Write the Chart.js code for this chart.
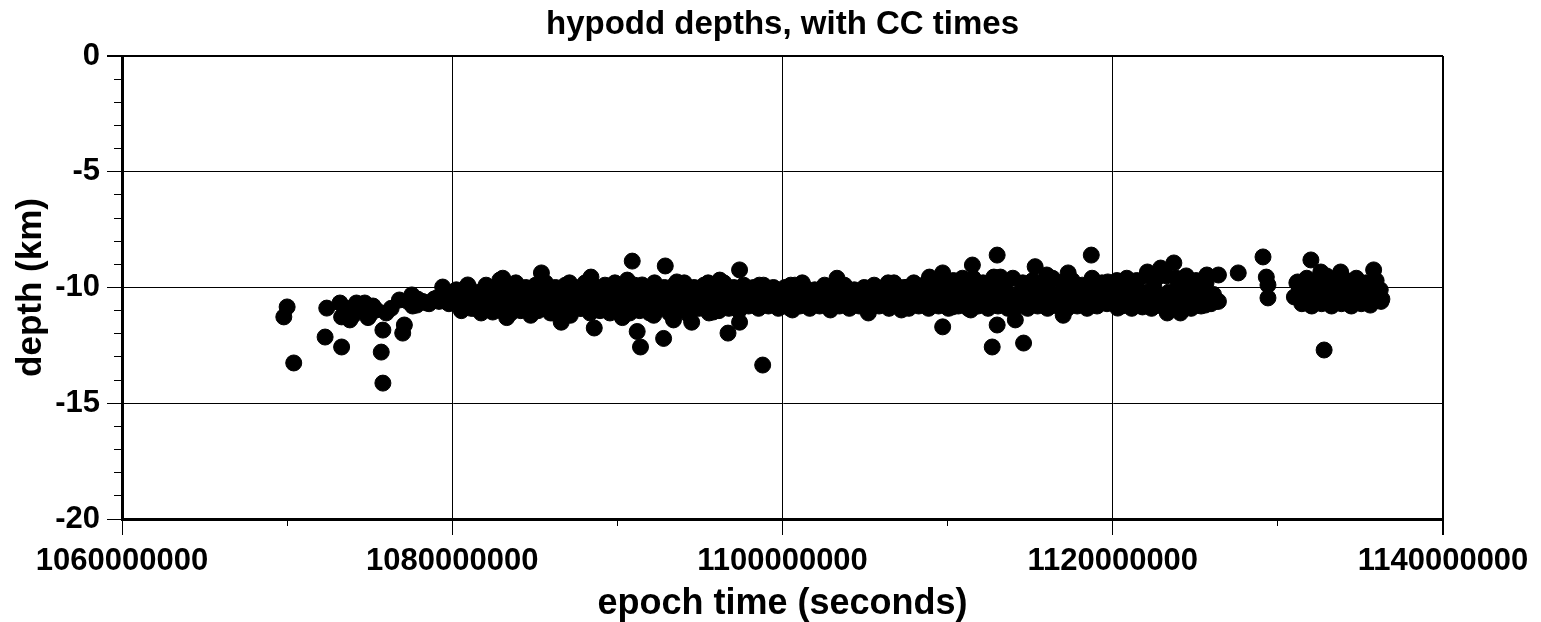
<!DOCTYPE html>
<html>
<head>
<meta charset="utf-8">
<title>hypodd depths</title>
<script src="https://cdn.jsdelivr.net/npm/chart.js@4/dist/chart.umd.min.js"></script>
<style>
  html, body { margin: 0; padding: 0; background: #fff; }
</style>
</head>
<body>
<canvas id="depthChart" width="1541" height="622"></canvas>
<script>
// epoch time (s) and depth (km), grouped by time span

// before 1080000000
const timesA = [
  1069.8e6, 1070.0e6, 1070.4e6, 1072.3e6, 1072.4e6, 1073.2e6, 1073.3e6, 1073.3e6, 1073.8e6, 1074.2e6,
  1074.7e6, 1075.0e6, 1075.4e6, 1075.7e6, 1075.8e6, 1075.8e6, 1076.0e6, 1076.8e6, 1077.0e6, 1077.1e6,
  1077.3e6, 1077.55e6, 1077.6e6, 1077.85e6, 1077.9e6, 1078.2e6, 1078.45e6, 1078.6e6, 1078.9e6, 1079.06e6,
  1079.2e6, 1079.42e6, 1079.5e6, 1079.67e6, 1079.8e6, 1073.6e6, 1074.0e6, 1074.4e6, 1075.2e6, 1074.9e6,
  1076.3e6
];
const depthsA = [
  -11.27, -10.84, -13.26, -12.14, -10.89, -10.67, -11.27, -12.57, -11.4, -10.67,
  -10.67, -11.19, -10.97, -12.79, -11.84, -14.13, -11.1, -10.54, -11.97, -11.62,
  -10.6, -10.32, -10.8, -10.76, -10.5, -10.6, -10.67, -10.7, -10.5, -10.45,
  -10.6, -9.98, -10.4, -10.63, -10.7, -10.9, -11.2, -11.0, -10.8, -11.3,
  -10.9
];

// 1080000000 - 1100000000
const timesB = [
  1080.27e6, 1080.94e6, 1081.48e6, 1081.97e6, 1082.45e6, 1082.88e6, 1083.06e6, 1083.3e6, 1083.8e6, 1084.7e6,
  1085.4e6, 1085.7e6, 1085.9e6, 1086.6e6, 1087.1e6, 1087.2e6, 1087.7e6, 1088.4e6, 1088.6e6, 1088.9e6,
  1089.4e6, 1089.8e6, 1090.3e6, 1090.6e6, 1090.9e6, 1091.2e6, 1091.4e6, 1091.5e6, 1092.2e6, 1092.8e6,
  1092.9e6, 1093.0e6, 1093.6e6, 1093.4e6, 1094.5e6, 1094.6e6, 1095.5e6, 1095.8e6, 1096.2e6, 1096.7e6,
  1097.4e6, 1097.5e6, 1097.4e6, 1098.6e6, 1098.8e6, 1099.1e6, 1099.2e6
];
const depthsB = [
  -10.45, -9.89, -10.63, -10.11, -11.06, -9.68, -9.6, -11.3, -10.1, -10.9,
  -9.37, -9.9, -10.9, -11.5, -9.8, -11.06, -10.3, -9.55, -11.75, -10.84,
  -10.0, -10.6, -11.3, -9.68, -8.86, -11.9, -12.57, -9.89, -11.2, -12.2,
  -9.07, -10.2, -9.76, -11.4, -11.5, -10.1, -9.8, -11.06, -9.68, -11.97,
  -9.24, -10.0, -11.5, -9.9, -13.35, -10.76, -10.2
];
const timesBandB = [
  1080.1e6, 1080.4e6, 1080.6e6, 1080.9e6, 1081.1e6, 1081.3e6, 1081.6e6, 1081.8e6, 1082.1e6, 1082.3e6,
  1082.6e6, 1082.9e6, 1083.1e6, 1083.4e6, 1083.6e6, 1083.9e6, 1084.1e6, 1084.3e6, 1084.5e6, 1084.8e6,
  1085.0e6, 1085.2e6, 1085.5e6, 1085.7e6, 1085.9e6, 1086.1e6, 1086.3e6, 1086.5e6, 1086.8e6, 1087.0e6,
  1087.3e6, 1087.5e6, 1087.8e6, 1088.0e6, 1088.2e6, 1088.5e6, 1088.7e6, 1089.0e6, 1089.2e6, 1089.5e6,
  1089.7e6, 1090.0e6, 1090.2e6, 1090.4e6, 1090.7e6, 1091.0e6, 1091.2e6, 1091.5e6, 1091.7e6, 1092.0e6,
  1092.2e6, 1092.4e6, 1092.7e6, 1093.0e6, 1093.2e6, 1093.5e6, 1093.8e6, 1094.0e6, 1094.2e6, 1094.5e6,
  1094.8e6, 1095.0e6, 1095.3e6, 1095.5e6, 1095.8e6, 1096.0e6, 1096.3e6, 1096.5e6, 1096.8e6, 1097.0e6,
  1097.3e6, 1097.6e6, 1097.9e6, 1098.1e6, 1098.4e6, 1098.7e6, 1099.0e6, 1099.4e6, 1099.7e6
];
const depthsBandB = [
  -10.6, -10.3, -10.8, -10.5, -10.2, -10.9, -10.4, -10.7, -10.3, -10.6,
  -10.9, -10.4, -10.2, -10.7, -11.0, -10.5, -10.3, -10.8, -10.4, -10.6,
  -10.2, -11.0, -10.5, -10.7, -10.3, -11.1, -10.6, -10.4, -10.8, -10.5,
  -10.2, -10.7, -10.9, -10.4, -10.6, -10.3, -10.8, -10.5, -10.7, -10.3,
  -10.9, -10.5, -10.2, -10.7, -10.4, -10.6, -10.2, -10.8, -10.4, -10.6,
  -10.3, -10.8, -10.5, -10.9, -10.4, -10.6, -10.3, -10.8, -10.5, -10.7,
  -10.3, -10.6, -10.4, -10.9, -10.5, -10.2, -10.7, -10.4, -10.6, -10.3,
  -10.8, -10.5, -10.6, -10.3, -10.7, -10.5, -10.4, -10.6, -10.3
];
const timesEdgeB = [
  1080.25e6, 1080.55e6, 1080.85e6, 1081.15e6, 1081.45e6, 1081.75e6, 1082.05e6, 1082.35e6, 1082.65e6, 1082.95e6,
  1083.25e6, 1083.55e6, 1083.85e6, 1084.15e6, 1084.45e6, 1084.75e6, 1085.05e6, 1085.35e6, 1085.65e6, 1085.95e6,
  1086.25e6, 1086.55e6, 1086.85e6, 1087.15e6, 1087.45e6, 1087.75e6, 1088.05e6, 1088.35e6, 1088.65e6, 1088.95e6,
  1089.25e6, 1089.55e6, 1089.85e6, 1090.15e6, 1090.45e6, 1090.75e6, 1091.05e6, 1091.35e6, 1091.65e6, 1091.95e6,
  1092.25e6, 1092.55e6, 1092.85e6, 1093.15e6, 1093.45e6, 1093.75e6, 1094.05e6, 1094.35e6, 1094.65e6, 1094.95e6,
  1095.25e6, 1095.55e6, 1095.85e6, 1096.15e6, 1096.45e6, 1096.75e6, 1097.05e6, 1097.35e6, 1097.65e6, 1097.95e6,
  1098.25e6, 1098.55e6, 1098.85e6, 1099.15e6, 1099.45e6, 1099.75e6
];
const depthsEdgeB = [
  -10.1, -11.0, -10.0, -10.9, -10.2, -11.1, -9.9, -10.9, -10.1, -11.0,
  -9.9, -11.1, -9.8, -11.0, -10.0, -11.2, -9.9, -10.9, -9.8, -11.1,
  -10.0, -11.0, -9.9, -11.2, -10.0, -10.9, -9.8, -11.1, -10.0, -11.0,
  -9.9, -11.1, -9.8, -10.9, -10.0, -11.1, -9.9, -11.0, -10.1, -11.1,
  -9.8, -10.9, -10.0, -11.1, -9.9, -11.0, -9.8, -11.2, -10.0, -10.9,
  -9.9, -11.1, -10.0, -11.0, -9.8, -10.9, -10.0, -11.0, -9.9, -10.8,
  -10.0, -10.9, -9.9, -10.8, -10.0, -10.9
];

// 1100000000 - 1120000000
const timesC = [
  1100.5e6, 1100.6e6, 1101.2e6, 1101.8e6, 1102.9e6, 1103.3e6, 1103.9e6, 1104.5e6, 1105.2e6, 1105.5e6,
  1106.4e6, 1106.9e6, 1107.2e6, 1107.6e6, 1108.2e6, 1108.9e6, 1109.2e6, 1109.7e6, 1109.7e6, 1110.3e6,
  1110.3e6, 1110.9e6, 1111.5e6, 1113.0e6, 1111.4e6, 1112.7e6, 1113.0e6, 1112.8e6, 1113.2e6, 1113.8e6,
  1114.1e6, 1114.6e6, 1115.3e6, 1116.0e6, 1115.6e6, 1117.0e6, 1117.3e6, 1117.8e6, 1118.7e6, 1118.8e6,
  1119.7e6
];
const depthsC = [
  -9.9, -10.97, -9.8, -10.32, -10.97, -9.6, -10.32, -10.2, -11.1, -10.45,
  -9.8, -10.63, -10.97, -9.98, -10.45, -9.55, -10.63, -11.7, -9.37, -9.76,
  -10.84, -9.6, -9.03, -8.6, -10.97, -12.57, -11.62, -9.55, -9.55, -10.45,
  -11.4, -12.4, -9.1, -9.46, -10.63, -11.2, -9.37, -9.9, -8.6, -10.2,
  -9.76
];
const timesBandC = [
  1100.0e6, 1100.3e6, 1100.6e6, 1100.9e6, 1101.2e6, 1101.5e6, 1101.8e6, 1102.1e6, 1102.4e6, 1102.7e6,
  1103.0e6, 1103.3e6, 1103.6e6, 1103.9e6, 1104.2e6, 1104.5e6, 1104.8e6, 1105.1e6, 1105.4e6, 1105.7e6,
  1106.0e6, 1106.3e6, 1106.6e6, 1106.9e6, 1107.2e6, 1107.5e6, 1107.8e6, 1108.1e6, 1108.4e6, 1108.7e6,
  1109.0e6, 1109.3e6, 1109.6e6, 1109.9e6, 1110.2e6, 1110.5e6, 1110.8e6, 1111.1e6, 1111.4e6, 1111.7e6,
  1112.0e6, 1112.3e6, 1112.6e6, 1112.9e6, 1113.2e6, 1113.5e6, 1113.8e6, 1114.1e6, 1114.4e6, 1114.7e6,
  1115.0e6, 1115.3e6, 1115.6e6, 1115.9e6, 1116.2e6, 1116.5e6, 1116.8e6, 1117.1e6, 1117.4e6, 1117.7e6,
  1118.0e6, 1118.3e6, 1118.6e6, 1118.9e6, 1119.2e6, 1119.5e6, 1119.8e6
];
const depthsBandC = [
  -10.5, -10.7, -10.3, -10.6, -10.4, -10.7, -10.5, -10.3, -10.6, -10.4,
  -10.7, -10.5, -10.3, -10.6, -10.4, -10.7, -10.5, -10.3, -10.6, -10.4,
  -10.7, -10.3, -10.5, -10.2, -10.6, -10.4, -10.7, -10.2, -10.5, -10.3,
  -10.6, -10.1, -10.4, -10.7, -10.2, -10.5, -10.3, -10.6, -10.1, -10.4,
  -10.7, -10.2, -10.5, -10.3, -10.6, -10.1, -10.4, -10.7, -10.2, -10.5,
  -10.3, -10.6, -10.1, -10.4, -10.2, -10.6, -10.3, -10.5, -10.1, -10.4,
  -10.6, -10.2, -10.5, -10.3, -10.6, -10.1, -10.4
];
const timesEdgeC = [
  1100.15e6, 1100.45e6, 1100.75e6, 1101.05e6, 1101.35e6, 1101.65e6, 1101.95e6, 1102.25e6, 1102.55e6, 1102.85e6,
  1103.15e6, 1103.45e6, 1103.75e6, 1104.05e6, 1104.35e6, 1104.65e6, 1104.95e6, 1105.25e6, 1105.55e6, 1105.85e6,
  1106.15e6, 1106.45e6, 1106.75e6, 1107.05e6, 1107.35e6, 1107.65e6, 1107.95e6, 1108.25e6, 1108.55e6, 1108.85e6,
  1109.15e6, 1109.45e6, 1109.75e6, 1110.05e6, 1110.35e6, 1110.65e6, 1110.95e6, 1111.25e6, 1111.55e6, 1111.85e6,
  1112.15e6, 1112.45e6, 1112.75e6, 1113.05e6, 1113.35e6, 1113.65e6, 1113.95e6, 1114.25e6, 1114.55e6, 1114.85e6,
  1115.15e6, 1115.45e6, 1115.75e6, 1116.05e6, 1116.35e6, 1116.65e6, 1116.95e6, 1117.25e6, 1117.55e6, 1117.85e6,
  1118.15e6, 1118.45e6, 1118.75e6, 1119.05e6, 1119.35e6, 1119.65e6
];
const depthsEdgeC = [
  -10.0, -10.9, -9.9, -10.8, -10.0, -10.9, -10.1, -10.8, -9.9, -10.9,
  -10.0, -10.8, -9.9, -10.9, -10.1, -10.8, -10.0, -10.9, -9.9, -10.8,
  -10.0, -10.9, -9.8, -10.8, -10.0, -10.9, -9.8, -10.8, -9.9, -10.9,
  -9.7, -10.8, -9.8, -10.9, -9.7, -10.8, -9.9, -10.9, -9.6, -10.8,
  -9.8, -10.9, -9.7, -10.8, -9.9, -10.9, -9.6, -10.8, -9.8, -10.9,
  -9.7, -10.8, -9.9, -10.9, -9.6, -10.8, -9.8, -10.9, -9.7, -10.8,
  -9.9, -10.9, -9.6, -10.8, -9.8, -10.7
];

// after 1120000000
const timesD = [
  1120.3e6, 1120.9e6, 1121.5e6, 1122.1e6, 1121.8e6, 1122.9e6, 1123.7e6, 1123.3e6, 1124.1e6, 1124.3e6,
  1125.1e6, 1125.6e6, 1125.7e6, 1126.4e6, 1127.6e6, 1129.1e6, 1129.3e6, 1129.4e6, 1129.4e6, 1131.2e6,
  1131.0e6, 1131.5e6, 1132.0e6, 1132.0e6, 1132.6e6, 1132.8e6, 1133.2e6, 1133.4e6, 1133.8e6, 1134.4e6,
  1134.9e6, 1135.6e6, 1135.8e6, 1136.2e6
];
const depthsD = [
  -10.89, -9.76, -10.32, -9.33, -10.84, -9.16, -8.94, -11.1, -11.1, -9.9,
  -10.76, -10.76, -9.46, -9.46, -9.37, -8.68, -9.55, -9.89, -10.45, -9.76,
  -10.41, -10.67, -8.81, -10.76, -9.33, -12.7, -10.0, -10.67, -9.33, -10.76,
  -9.76, -10.76, -9.24, -10.1
];
const timesBandD = [
  1120.1e6, 1120.4e6, 1120.7e6, 1121.0e6, 1121.3e6, 1121.6e6, 1121.9e6, 1122.2e6, 1122.5e6, 1122.8e6,
  1123.1e6, 1123.4e6, 1123.7e6, 1124.0e6, 1124.3e6, 1124.6e6, 1124.9e6, 1125.2e6, 1125.5e6, 1125.8e6,
  1126.1e6, 1126.4e6, 1131.3e6, 1131.6e6, 1131.9e6, 1132.2e6, 1132.5e6, 1132.8e6, 1133.0e6, 1133.3e6,
  1133.6e6, 1133.9e6, 1134.2e6, 1134.5e6, 1134.8e6, 1135.1e6, 1135.4e6, 1135.7e6, 1136.0e6, 1136.3e6
];
const depthsBandD = [
  -10.2, -10.5, -10.3, -10.6, -10.0, -10.4, -10.2, -10.6, -10.0, -10.4,
  -10.7, -10.2, -10.5, -9.9, -10.4, -10.7, -10.1, -10.4, -10.0, -10.5,
  -10.3, -10.6, -10.1, -10.5, -9.9, -10.3, -10.6, -10.0, -10.4, -9.7,
  -10.2, -10.5, -9.9, -10.3, -10.6, -10.0, -10.4, -9.8, -10.3, -10.5
];
const timesEdgeD = [
  1120.25e6, 1120.55e6, 1120.85e6, 1121.15e6, 1121.45e6, 1121.75e6, 1122.05e6, 1122.35e6, 1122.65e6, 1122.95e6,
  1123.25e6, 1123.55e6, 1123.85e6, 1124.15e6, 1124.45e6, 1124.75e6, 1125.05e6, 1125.35e6, 1125.65e6, 1125.95e6,
  1126.25e6, 1131.15e6, 1131.45e6, 1131.75e6, 1132.05e6, 1132.35e6, 1132.65e6, 1132.95e6, 1133.25e6, 1133.55e6,
  1133.85e6, 1134.15e6, 1134.45e6, 1134.75e6, 1135.05e6, 1135.35e6, 1135.65e6, 1135.95e6, 1136.25e6
];
const depthsEdgeD = [
  -9.7, -10.8, -9.6, -10.9, -9.7, -10.8, -9.5, -10.9, -9.6, -10.8,
  -9.5, -10.9, -9.6, -10.8, -9.5, -10.9, -9.7, -10.8, -9.8, -10.7,
  -10.6, -9.8, -10.7, -9.6, -10.8, -9.7, -10.7, -9.5, -10.8, -9.6,
  -10.7, -9.7, -10.8, -9.6, -10.7, -9.8, -10.6, -9.7, -10.6
];

// axis ranges
const timeMin = 1060000000, timeMax = 1140000000, timeStep = 20000000;
const depthMin = -20, depthMax = 0, depthStep = 5;

const fontFamily = "'Liberation Sans', Arial, Helvetica, sans-serif";

function pairUp(ts, ds) {
    return ts.map((t, i) => ({ x: t, y: ds[i] }));
}

const points = [].concat(
    pairUp(timesA, depthsA),
    pairUp(timesB, depthsB),
    pairUp(timesBandB, depthsBandB),
    pairUp(timesEdgeB, depthsEdgeB),
    pairUp(timesC, depthsC),
    pairUp(timesBandC, depthsBandC),
    pairUp(timesEdgeC, depthsEdgeC),
    pairUp(timesD, depthsD),
    pairUp(timesBandD, depthsBandD),
    pairUp(timesEdgeD, depthsEdgeD)
);

const ctx = document.getElementById('depthChart').getContext('2d');

new Chart(ctx, {
    type: 'scatter',
    data: {
        datasets: [{
            data: points,
            xAxisID: 'x',
            yAxisID: 'y',
            pointRadius: 8,
            pointHoverRadius: 8,
            pointBorderWidth: 1,
            backgroundColor: '#000',
            borderColor: '#000'
        }]
    },
    options: {
        responsive: false,
        devicePixelRatio: 1,
        animation: false,
        layout: { padding: { left: 0, right: 98, top: 0, bottom: 0 } },
        plugins: {
            legend: { display: false },
            tooltip: { enabled: false },
            title: {
                display: true,
                text: 'hypodd depths, with CC times',
                fullSize: false,
                color: '#000',
                font: { family: fontFamily, size: 33, weight: 'bold', lineHeight: 1.2 },
                padding: { top: 5.5, bottom: 10.9 }
            }
        },
        scales: {
            x: {
                type: 'linear',
                position: 'bottom',
                weight: 1,
                min: timeMin,
                max: timeMax,
                ticks: {
                    stepSize: timeStep,
                    autoSkip: false,
                    maxRotation: 0,
                    padding: 8,
                    color: '#000',
                    font: { family: fontFamily, size: 31, weight: 'bold' },
                    callback: v => String(v)
                },
                grid: {
                    color: '#000',
                    tickLength: 16,
                    lineWidth: c => (c.tick && Math.abs(c.tick.value - timeMax) < 1) ? 2 : 1
                },
                border: { color: '#000', width: 3 },
                title: {
                    display: true,
                    text: 'epoch time (seconds)',
                    color: '#000',
                    font: { family: fontFamily, size: 36, weight: 'bold', lineHeight: 1 },
                    padding: 0
                },
                afterFit: s => { s.height = 103; }
            },
            xMinor: {
                type: 'linear',
                axis: 'x',
                position: 'bottom',
                weight: 0,
                min: timeMin,
                max: timeMax,
                ticks: { display: false, stepSize: timeStep / 2 },
                grid: { drawOnChartArea: false, tickLength: 7, color: '#000' },
                border: { display: false },
                afterFit: s => { s.height = 0; }
            },
            y: {
                type: 'linear',
                position: 'left',
                weight: 1,
                min: depthMin,
                max: depthMax,
                ticks: {
                    stepSize: depthStep,
                    padding: 7,
                    color: '#000',
                    font: { family: fontFamily, size: 31, weight: 'bold' },
                    callback: v => String(v)
                },
                grid: {
                    color: '#000',
                    tickLength: 15,
                    lineWidth: c => (c.tick && c.tick.value === depthMax) ? 2 : 1
                },
                border: { color: '#000', width: 3 },
                title: {
                    display: true,
                    text: 'depth (km)',
                    color: '#000',
                    font: { family: fontFamily, size: 35, weight: 'bold', lineHeight: 1 },
                    padding: { top: 13.5, bottom: 0 }
                },
                afterFit: s => { s.width = 122; }
            },
            yMinor: {
                type: 'linear',
                axis: 'y',
                position: 'left',
                weight: 0,
                min: depthMin,
                max: depthMax,
                ticks: { display: false, stepSize: 1 },
                grid: { drawOnChartArea: false, tickLength: 8, color: '#000' },
                border: { display: false },
                afterFit: s => { s.width = 0; }
            }
        }
    }
});
</script>
</body>
</html>
